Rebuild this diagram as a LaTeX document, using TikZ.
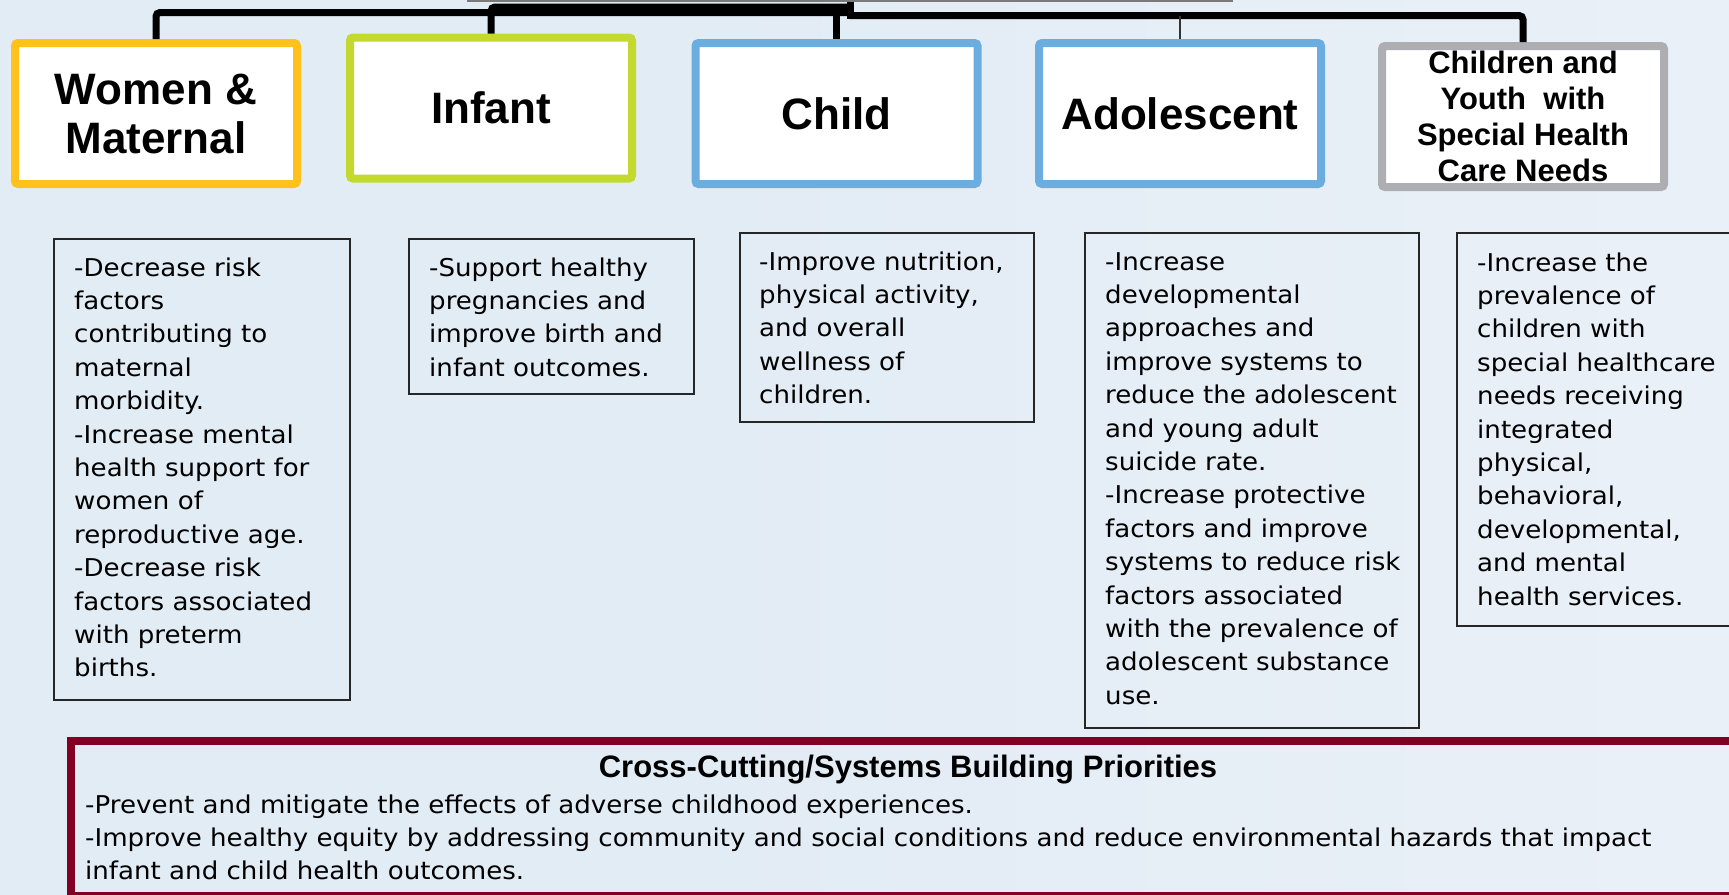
\documentclass[tikz,border=0pt]{standalone}
\usepackage{fontspec}
\setmainfont{Liberation Sans}
\newfontfamily\descfont[FakeStretch=1.065]{DejaVu Sans}
\definecolor{bgA}{HTML}{E0EBF5}
\definecolor{bgB}{HTML}{E2ECF5}
\definecolor{bgC}{HTML}{EAF0F7}
\definecolor{bgD}{HTML}{F6F8FA}
\definecolor{womenc}{HTML}{FFC21D}
\definecolor{infantc}{HTML}{C4D92E}
\definecolor{bluec}{HTML}{6CADDF}
\definecolor{grayc}{HTML}{ADAEB2}
\definecolor{maroonc}{HTML}{820024}
\definecolor{titlec}{HTML}{7A7A7A}
\pgfdeclarehorizontalshading{bgshade}{100bp}{color(0bp)=(bgA); color(45bp)=(bgB); color(75bp)=(bgC); color(100bp)=(bgD)}
\tikzset{
  hdrbox/.style={draw, line width=8pt, fill=white, rounded corners=3pt, minimum width=282pt, minimum height=141pt, inner sep=0pt, align=center, font=\bfseries\fontsize{44}{49}\selectfont},
  smallhdr/.style={font=\bfseries\fontsize{31}{36}\selectfont},
  descbox/.style={draw=black!85, line width=1.8pt, anchor=north west, inner sep=0pt, outer sep=0pt},
  desctext/.style={anchor=base west, inner sep=0pt, align=left, font=\descfont\fontsize{24.5}{33.4}\selectfont},
  conn/.style={line width=7pt, rounded corners=4pt},
}
\begin{document}
\begin{tikzpicture}[x=1pt,y=-1pt]
\useasboundingbox (0,0) rectangle (1729,894);
\clip (0,0) rectangle (1729,894);
\fill[shading=bgshade] (0,0) rectangle (1729,894);

% cut-off title box
\node[draw=titlec, line width=1.5pt, minimum width=764pt, minimum height=60pt, inner sep=0pt] (title) at (850,-29) {};

% header boxes
\node[hdrbox, draw=womenc] (women) at (156,113.5) {Women \&\\Maternal};
\node[hdrbox, draw=infantc] (infant) at (491,108) {Infant};
\node[hdrbox, draw=bluec] (child) at (836.5,113.5) {Child};
\node[hdrbox, draw=bluec] (adol) at (1180,113.5) {Adolescent};
\node[hdrbox, draw=grayc, smallhdr] (cyshcn) at (1523,116.5) {Children and\\Youth~ with\\Special Health\\Care Needs};

% connectors
\coordinate (hubL) at (850,12.5);
\coordinate (hubU) at (850,7);
\coordinate (hubR) at (850,15.5);
\coordinate (trunkEnd) at (850,19);
\draw[conn] (title.south) -- (trunkEnd);
\draw[conn] (women.north) |- (hubL);
\draw[conn] (infant.north) |- (hubU);
\draw[conn] (child.north) -- (child.north |- hubL);
\draw[conn] (hubR) -| (cyshcn.north);
\draw[line width=1.3pt, black!80] (adol.north) -- (adol.north |- hubR);

% description boxes
\node[descbox, minimum width=296pt, minimum height=461pt] (d1) at (54,239) {};
\node[descbox, minimum width=285pt, minimum height=155pt] (d2) at (409,239) {};
\node[descbox, minimum width=294pt, minimum height=189pt] (d3) at (740,233) {};
\node[descbox, minimum width=334pt, minimum height=495pt] (d4) at (1085,233) {};
\node[descbox, minimum width=300pt, minimum height=393pt] (d5) at (1457,233) {};

% (base anchor = baseline of the last line)
\node[desctext] (t1) at (74,676.8) {-Decrease risk\\factors\\contributing to\\maternal\\morbidity.\\-Increase mental\\health support for\\women of\\reproductive age.\\-Decrease risk\\factors associated\\with preterm\\births.};
\node[desctext] (t2) at (429,376.2) {-Support healthy\\pregnancies and\\improve birth and\\infant outcomes.};
\node[desctext] (t3) at (759,403.6) {-Improve nutrition,\\physical activity,\\and overall\\wellness of\\children.};
\node[desctext] (t4) at (1105,704.2) {-Increase\\developmental\\approaches and\\improve systems to\\reduce the adolescent\\and young adult\\suicide rate.\\-Increase protective\\factors and improve\\systems to reduce risk\\factors associated\\with the prevalence of\\adolescent substance\\use.};
\node[desctext] (t5) at (1477,605) {-Increase the\\prevalence of\\children with\\special healthcare\\needs receiving\\integrated\\physical,\\behavioral,\\developmental,\\and mental\\health services.};

% cross-cutting box
\node[draw=maroonc, line width=8pt, minimum width=1674pt, minimum height=155pt, inner sep=0pt] (cross) at (908,818.5) {};
\node[anchor=base, inner sep=0pt, font=\bfseries\fontsize{31}{36}\selectfont] (crosstitle) at (908,777) {Cross-Cutting/Systems Building Priorities};
\node[desctext] (crosstext) at (85,879.8) {-Prevent and mitigate the effects of adverse childhood experiences.\\-Improve healthy equity by addressing community and social conditions and reduce environmental hazards that impact\\infant and child health outcomes.};
\end{tikzpicture}
\end{document}
